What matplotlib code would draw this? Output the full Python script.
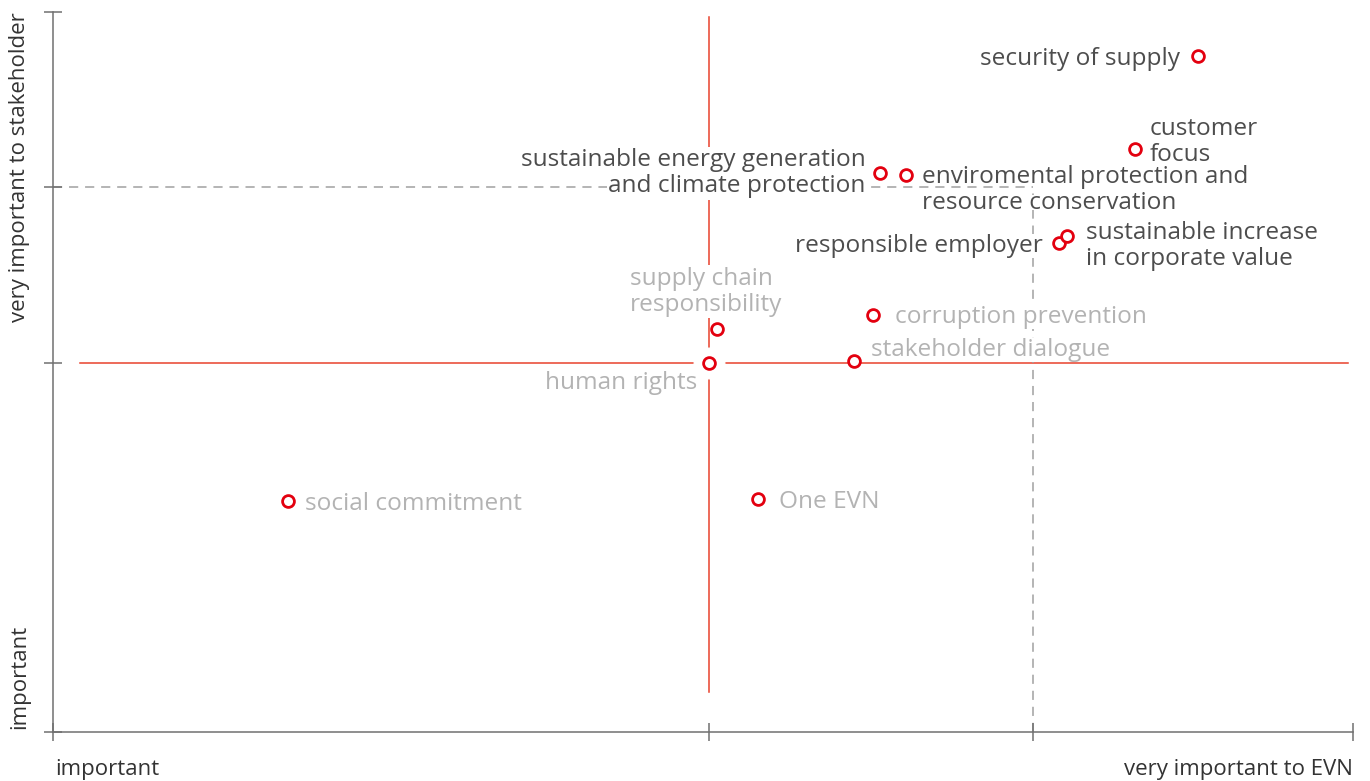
import matplotlib
matplotlib.use('Agg')
import matplotlib.pyplot as plt

# importance to EVN (x) and to stakeholders (y), 0..100 scale
topics = ['security of supply', 'customer\nfocus',
          'sustainable energy generation\nand climate protection',
          'enviromental protection and\nresource conservation',
          'responsible employer', 'sustainable increase\nin corporate value',
          'supply chain\nresponsibility', 'corruption prevention',
          'stakeholder dialogue', 'human rights', 'social commitment', 'One EVN']
x_evn = [88.1, 83.2, 63.6, 65.6, 77.4, 78.0, 51.1, 63.1, 61.6, 50.5, 18.1, 54.2]
y_stake = [93.9, 81.0, 77.6, 77.4, 67.9, 68.9, 56.0, 57.9, 51.5, 51.25, 32.1, 32.4]
material = [True, True, True, True, True, True, False, False, False, False, False, False]

x_mid, y_mid = 50.5, 51.25       # red cross
x_hi, y_hi = 75.4, 75.7          # dashed threshold

RED = '#e3000f'
DARK = '#4d4d4d'
LIGHT = '#b3b3b3'
FONT = 'Open Sans'
LINE_H = 26  # px between label lines

# label placement: (dx px, dy px, ha, box pad)
offsets = [(-18, 0, 'right', 0), (15, 10, 'left', 0), (-14, 3, 'right', 0.06),
           (16, -12, 'left', -0.18), (-16, 0, 'right', 0), (19, -7, 'left', 0),
           (-87, 40, 'left', 0.06), (22, 1, 'left', 0), (17, 14, 'left', 0),
           (-12, -17, 'right', 0), (17, 0, 'left', 0), (21, 0, 'left', 0)]

fig = plt.figure(figsize=(13.7, 7.81), dpi=100)
ax = fig.add_axes([53 / 1370, 49 / 781, 1300 / 1370, 720 / 781])
ax.set_xlim(0, 100)
ax.set_ylim(0, 100)

for s in ['top', 'right']:
    ax.spines[s].set_visible(False)
for s in ['left', 'bottom']:
    ax.spines[s].set_color('#707070')
    ax.spines[s].set_linewidth(1.1)

ax.set_xticks([0, x_mid, x_hi, 100])
ax.set_yticks([0, y_mid, y_hi, 100])
ax.set_xticklabels([])
ax.set_yticklabels([])
ax.tick_params(direction='inout', length=13, width=1.1, color='#707070')

# quadrant lines
ax.plot([x_mid, x_mid], [5.6, 99.3], color='#e8412c', lw=1.1, zorder=1)
ax.plot([2.1, 99.6], [y_mid, y_mid], color='#e8412c', lw=1.1, zorder=1)
ax.plot([0, x_hi], [y_hi, y_hi], color='#a0a0a0', lw=1.1, ls=(0, (6, 4.5)), zorder=1)
ax.plot([x_hi, x_hi], [0, y_hi], color='#a0a0a0', lw=1.1, ls=(0, (6, 4.5)), zorder=1)

# white halo where the point sits on the cross
for x, y in zip(x_evn, y_stake):
    if x == x_mid and y == y_mid:
        ax.plot(x, y, 'o', ms=22, color='white', zorder=2)

ax.plot(x_evn, y_stake, 'o', ms=8.5, mfc='white', mec=RED, mew=2, ls='none', zorder=4)

# one text per line so each line gets its own white box
for t, x, y, m, (dx, dy, ha, pad) in zip(topics, x_evn, y_stake, material, offsets):
    lines = t.split('\n')
    n = len(lines)
    for i, ln in enumerate(lines):
        ly = dy + (n - 1) / 2 * LINE_H - i * LINE_H
        ax.annotate(ln, (x, y), xytext=(dx, ly), textcoords='offset pixels',
                    ha=ha, va='center_baseline', fontsize=17.6, family=FONT,
                    color=DARK if m else LIGHT, zorder=3,
                    bbox=dict(boxstyle=f'square,pad={pad}', fc='white', ec='none'))

# axis end labels
fig.text(55 / 1370, 1 - 769 / 781, 'important', fontsize=16, family=FONT,
         color='#333333', ha='left', va='center')
fig.text(1353 / 1370, 1 - 769 / 781, 'very important to EVN', fontsize=16, family=FONT,
         color='#333333', ha='right', va='center')
fig.text(20 / 1370, 1 - 12 / 781, 'very important to stakeholder', fontsize=16, family=FONT,
         color='#333333', rotation=90, ha='center', va='top')
fig.text(20 / 1370, 1 - 729 / 781, 'important', fontsize=16, family=FONT,
         color='#333333', rotation=90, ha='center', va='bottom')

fig.savefig('out.png', dpi=100)
